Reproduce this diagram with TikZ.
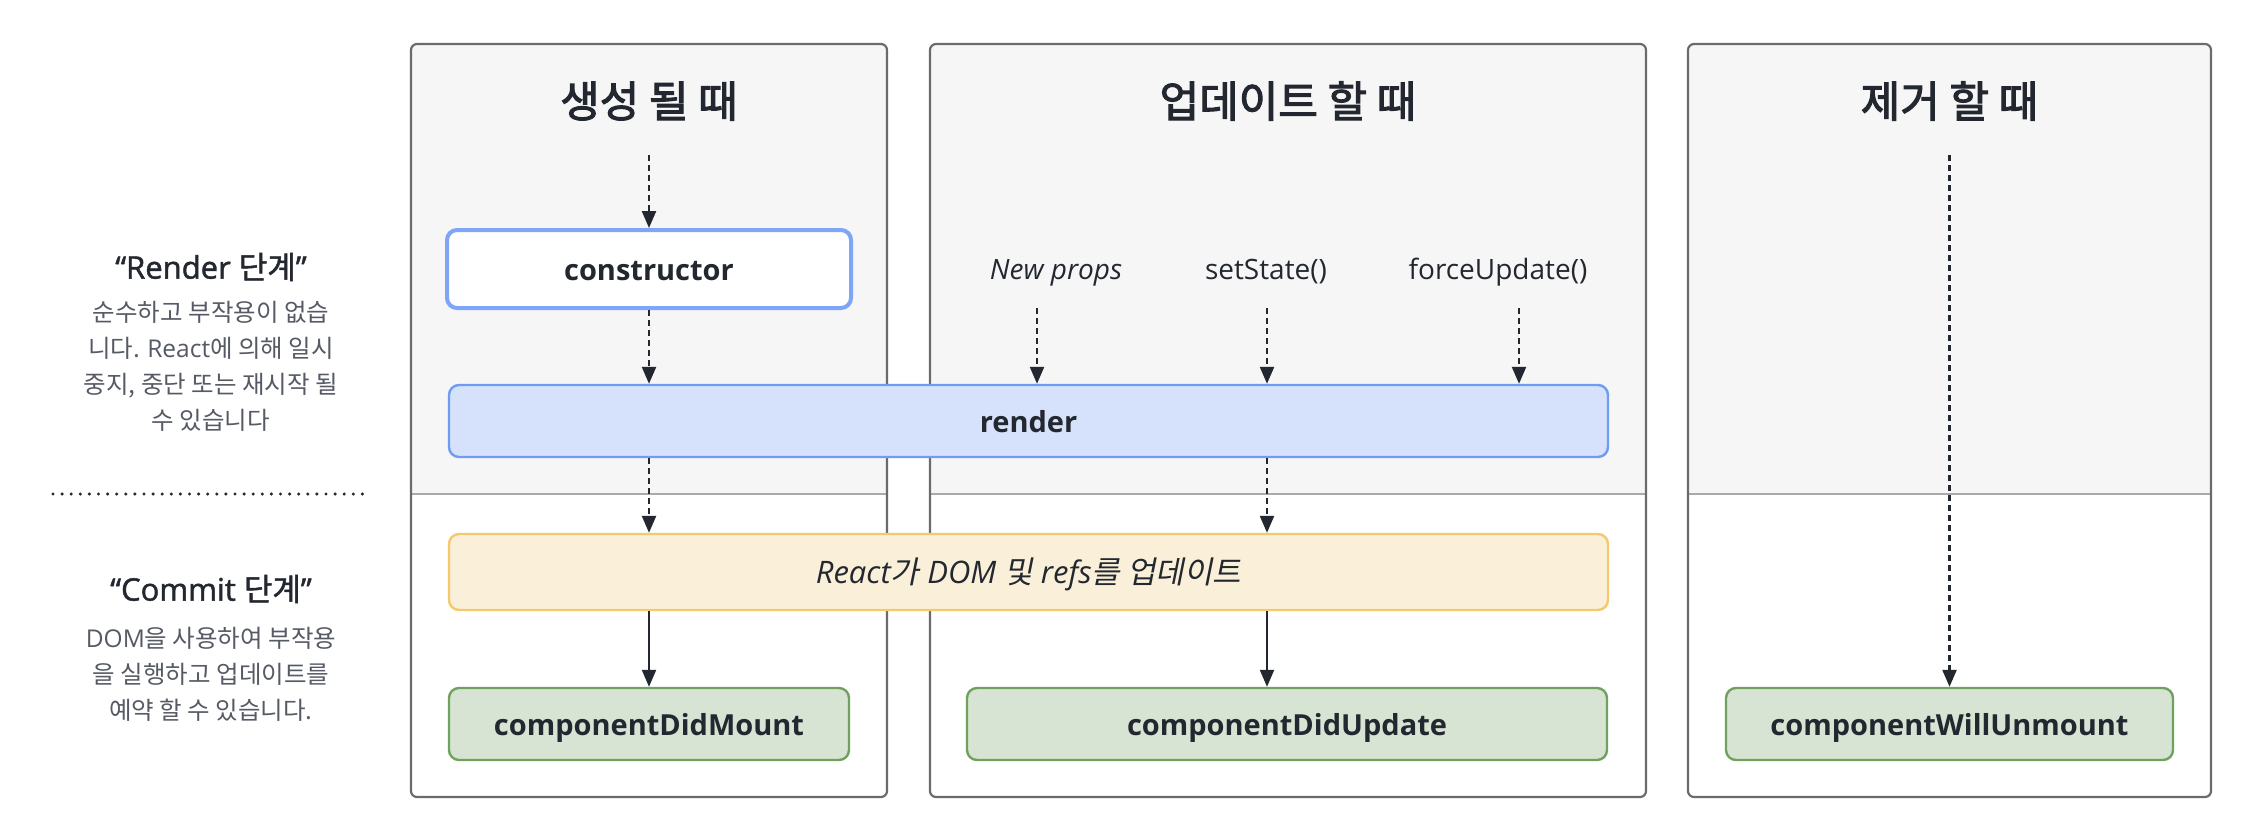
\documentclass[tikz,border=0pt]{standalone}
\usepackage{fontspec}
\setmainfont{Open Sans}
\newfontfamily\lat{Open Sans}
\newfontfamily\kr{Noto Sans CJK KR}
\newfontfamily\krmed[FakeBold=2.5]{Noto Sans CJK KR}
\newfontfamily\krhead[FakeBold=1.5]{Noto Sans CJK KR}
\newfontfamily\lathead[FakeBold=1.5]{Open Sans}
\newfontfamily\krit[FakeSlant=0.2]{Noto Sans CJK KR}
\usetikzlibrary{arrows.meta}
\definecolor{textdark}{HTML}{23272F}
\definecolor{coltop}{HTML}{F6F6F6}
\definecolor{colborder}{HTML}{6B6B6B}
\definecolor{divline}{HTML}{AAAAAA}
\definecolor{ctorborder}{HTML}{7DA6F9}
\definecolor{renderfill}{HTML}{D6E2FB}
\definecolor{renderborder}{HTML}{6D9CF2}
\definecolor{commitfill}{HTML}{FAF0D9}
\definecolor{commitborder}{HTML}{F4C96E}
\definecolor{greenfill}{HTML}{D8E4D3}
\definecolor{greenborder}{HTML}{6FA25F}
\definecolor{descgray}{HTML}{555A64}
\begin{document}
\begin{tikzpicture}[x=1pt,y=1pt,
  colframe/.style={draw=colborder, line width=2.2pt, rounded corners=6pt},
  divider/.style={draw=divline, line width=2pt},
  coltitle/.style={font=\krmed\fontsize{43}{50}\selectfont, text=textdark, inner sep=0pt},
  stagebox/.style={font=\bfseries\fontsize{29}{34}\selectfont, text=textdark, text height=22pt, text depth=0pt, rounded corners=10pt, line width=2.4pt, inner sep=0pt},
  ctorbox/.style={stagebox, draw=ctorborder, fill=white, line width=4pt},
  renderbox/.style={stagebox, draw=renderborder, fill=renderfill},
  commitbox/.style={stagebox, font=\fontsize{31}{36}\selectfont, draw=commitborder, fill=commitfill},
  greenbox/.style={stagebox, draw=greenborder, fill=greenfill},
  trigger/.style={font=\fontsize{28}{32}\selectfont, text=textdark, anchor=base, inner sep=0pt},
  phasehead/.style={font=\lathead\fontsize{31}{36}\selectfont, text=textdark, inner sep=0pt},
  phasedesc/.style={font=\kr\fontsize{24.5}{36}\selectfont, text=descgray, align=center, inner sep=0pt},
  dasharrow/.style={draw=textdark, line width=2.4pt, dash pattern=on 6pt off 4pt, -{Triangle[length=17pt,width=14pt]}},
  solidarrow/.style={draw=textdark, line width=2.2pt, -{Triangle[length=17pt,width=14pt]}},
  dotline/.style={draw=textdark, line width=3.4pt, line cap=round, dash pattern=on 0pt off 9.1pt}
]
\useasboundingbox (0,0) rectangle (2246,-812);
\fill[white] (0,0) rectangle (2246,-812);

% columns
\foreach \xa/\xb in {411/887, 930/1646, 1688/2211} {
  \begin{scope}
    \clip[rounded corners=6pt] (\xa,-44) rectangle (\xb,-797);
    \fill[coltop] (\xa,-44) rectangle (\xb,-494);
  \end{scope}
  \draw[divider] (\xa,-494) -- (\xb,-494);
  \draw[colframe] (\xa,-44) rectangle (\xb,-797);
}

% column titles
\node[coltitle] (t1) at (649,-101) {생성 될 때};
\node[coltitle] (t2) at (1288,-101) {업데이트 할 때};
\node[coltitle] (t3) at (1949.5,-101) {제거 할 때};

% left phase texts
\node[phasehead] (rh) at (211,-267) {“Render {\krhead 단계}”};
\node[phasedesc] (rd) at (211,-366) {순수하고 부작용이 없습\\니다. {\lat React}에 의해 일시\\중지, 중단 또는 재시작 될\\수 있습니다};
\draw[dotline] (53,-494) -- (370,-494);
\node[phasehead] (ch) at (211,-589) {“Commit {\krhead 단계}”};
\node[phasedesc] (cd) at (211,-674) {{\lat DOM}을 사용하여 부작용\\을 실행하고 업데이트를\\예약 할 수 있습니다.};

% boxes
\node[ctorbox, minimum width=404pt, minimum height=78pt] (ctor) at (649,-269) {constructor};
\node[renderbox, minimum width=1159pt, minimum height=72pt] (render) at (1028.5,-421) {render};
\node[commitbox, minimum width=1159pt, minimum height=76pt] (commit) at (1028.5,-572) {{\itshape React}{\krit 가} {\itshape DOM} {\krit 및} {\itshape refs}{\krit 를 업데이트}};
\node[greenbox, minimum width=400pt, minimum height=72pt] (cdm) at (649,-724) {componentDidMount};
\node[greenbox, minimum width=640pt, minimum height=72pt] (cdu) at (1287,-724) {componentDidUpdate};
\node[greenbox, minimum width=447pt, minimum height=72pt] (cwu) at (1949.5,-724) {componentWillUnmount};

% triggers
\node[trigger] (np) at (1056,-279) {\itshape New props};
\node[trigger] (ss) at (1266,-279) {setState()};
\node[trigger] (fu) at (1498,-279) {forceUpdate()};

% arrows column 1
\coordinate (c1s) at (649,-155);
\draw[dasharrow] (c1s) -- (ctor.north);
\draw[dasharrow] (ctor.south) -- (ctor.south |- render.north);
\draw[dasharrow] (render.south -| ctor.south) -- (commit.north -| ctor.south);
\draw[solidarrow] (commit.south -| cdm.north) -- (cdm.north);

% arrows column 2
\coordinate (np0) at (1037,-308);
\coordinate (ss0) at (1267,-308);
\coordinate (fu0) at (1519,-308);
\draw[dasharrow] (np0) -- (np0 |- render.north);
\draw[dasharrow] (ss0) -- (ss0 |- render.north);
\draw[dasharrow] (fu0) -- (fu0 |- render.north);
\draw[dasharrow] (render.south -| ss0) -- (commit.north -| ss0);
\draw[solidarrow] (commit.south -| ss0) -- (cdu.north -| ss0);

% arrow column 3
\coordinate (c3s) at (1949.5,-155);
\draw[dasharrow] (c3s) -- (cwu.north);
\end{tikzpicture}
\end{document}
